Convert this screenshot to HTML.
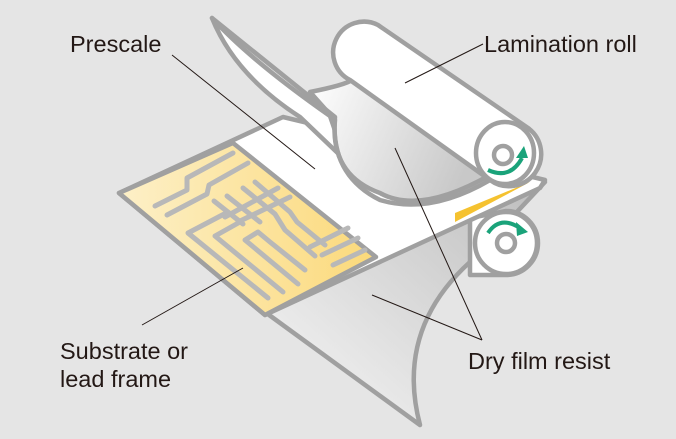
<!DOCTYPE html>
<html><head><style>
html,body{margin:0;padding:0;background:#e5e5e5;}
svg{display:block}
text{font-family:"Liberation Sans",Arial,sans-serif;font-size:23.5px;fill:#231815}
</style></head><body>
<svg width="676" height="439" viewBox="0 0 676 439">
<defs>
<linearGradient id="yel" x1="0" y1="0" x2="1" y2="0">
<stop offset="0" stop-color="#fdf0c8"/><stop offset="1" stop-color="#fbd97a"/></linearGradient>
<linearGradient id="film" x1="0" y1="0" x2="1" y2="0.3">
<stop offset="0" stop-color="#ffffff"/><stop offset="1" stop-color="#c8c8c8"/></linearGradient>
<linearGradient id="film2" x1="0" y1="1" x2="1" y2="0">
<stop offset="0" stop-color="#f8f8f8"/><stop offset="1" stop-color="#bdbdbd"/></linearGradient>
</defs>
<rect width="676" height="439" fill="#e5e5e5"/>
<g stroke="#a0a0a0" stroke-width="4.5" stroke-linejoin="round" stroke-linecap="round">
<path d="M265 312 L420 425 Q395 330 470 262 L545 182 Z" fill="url(#film2)"/>
<path d="M470 218 L506 211 A32 32 0 0 1 506 275 L470 275 Z" fill="#fff"/>
<circle cx="506" cy="243" r="31" fill="#fff"/>
<circle cx="506" cy="243" r="9" fill="#fff"/>
<path d="M119 193 L283 117 L545 180 L540 188 L265 315 Z" fill="#fff"/>
<path d="M119 193 L233 143 L376 257 L265 315 Z" fill="url(#yel)"/>
<path d="M455 213 L530 182 L455 222 Z" fill="#f5c230" stroke="none"/>
<path d="M212 18 Q235 75 300 117 L345 160 L330 116 Q250 60 212 18 Z" fill="#fff"/>
<path d="M310 92 Q345 85 352 80 L490 175 Q420 215 380 193 Q330 175 335 120 Z" fill="url(#film)"/>
<path d="M212 18 L335 117 Q330 175 380 200 Q430 215 490 180" fill="none"/>
<path d="M378 25 L528 128 A30 30 0 0 1 490 180 L350 80 A30 30 0 0 1 378 25 Z" fill="#fff"/>
<ellipse cx="505" cy="153" rx="29" ry="31" fill="#fff"/>
<circle cx="503" cy="155" r="9" fill="#fff"/>
</g>
<g stroke="#b8b8b8" stroke-width="5" fill="none" stroke-linecap="round" stroke-linejoin="round">
<path d="M155 206 L187 190 L187 178 L233 153"/>
<path d="M167 215 L207 194 L209 185 L248 163"/>
<path d="M268 298 L188 233 L228 212"/>
<path d="M283 292 L215 236 L240 222"/>
<path d="M298 284 L245 240 L258 232 L270 242 L305 270"/>
<path d="M214 201 L243 224"/>
<path d="M227 196 L260 222"/>
<path d="M243 188 L275 214 L285 230 L315 256"/>
<path d="M255 182 L290 212 L297 222 L325 245"/>
<path d="M225 217 L278 188"/>
<path d="M238 222 L290 197"/>
<path d="M310 247 L348 228"/>
<path d="M322 255 L358 238"/>
<path d="M333 265 L365 250"/>
</g>
<g stroke="#1aa37a" stroke-width="4" fill="none">
<path d="M488 170 Q510 180 522 158"/>
<path d="M488 233 Q500 215 520 228"/>
</g>
<path d="M516 158 L528 158 L524 146 Z" fill="#1aa37a"/>
<path d="M516 222 L528 232 L517 236 Z" fill="#1aa37a"/>
<g stroke="#231815" stroke-width="1" fill="none">
<line x1="172" y1="55" x2="315" y2="169"/>
<line x1="405" y1="83" x2="483" y2="44"/>
<line x1="142" y1="325" x2="243" y2="268"/>
<line x1="395" y1="148" x2="482" y2="340"/>
<line x1="372" y1="295" x2="482" y2="340"/>
</g>
<text x="70" y="52">Prescale</text>
<text x="484" y="52">Lamination roll</text>
<text x="60" y="359">Substrate or</text>
<text x="60" y="387">lead frame</text>
<text x="468" y="369">Dry film resist</text>
</svg>
</body></html>
